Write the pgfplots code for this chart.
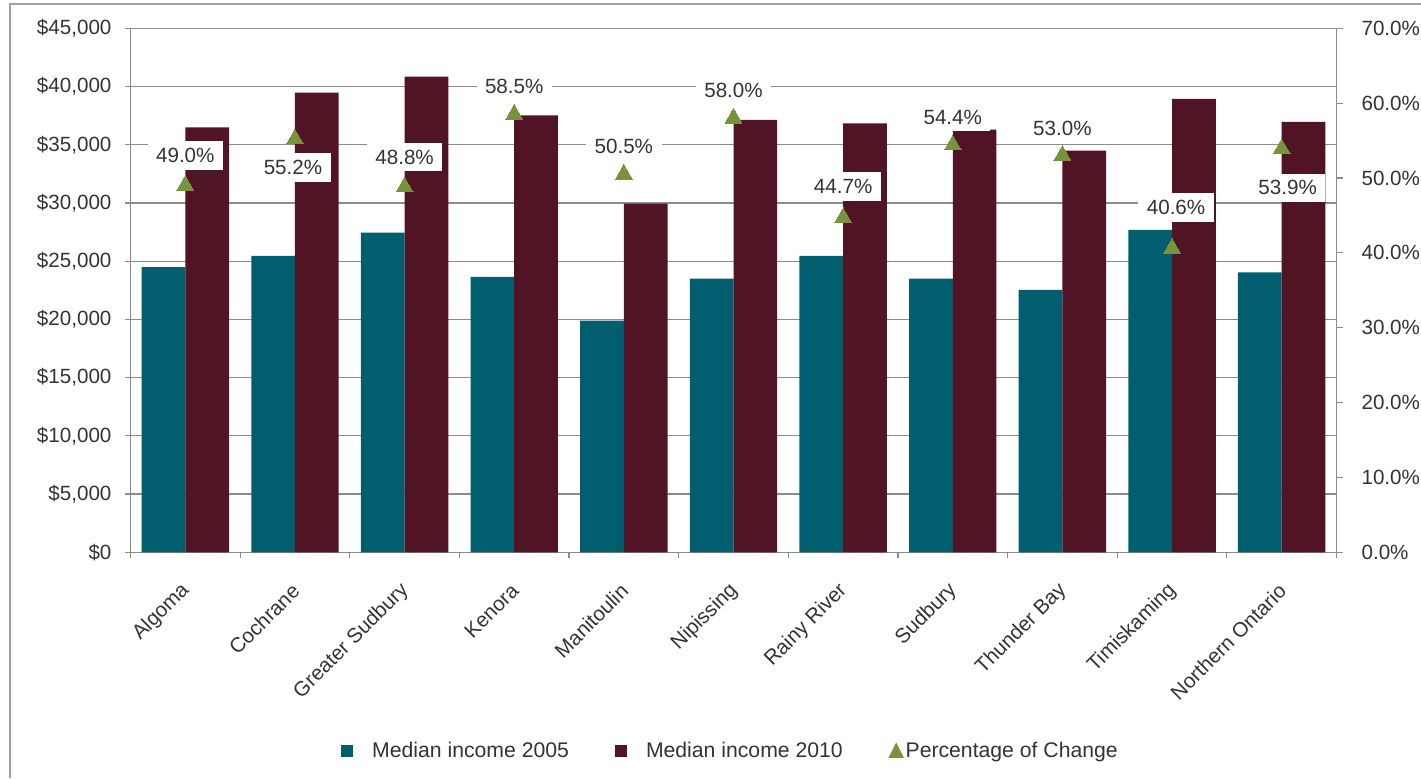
\documentclass[border=0pt]{standalone}
\usepackage{pgfplots}
\pgfplotsset{compat=1.18}
\usepackage{pgfplotstable}
\usepackage{fontspec}
\setmainfont{Liberation Sans}
\definecolor{teal05}{RGB}{0,94,110}
\definecolor{maroon10}{RGB}{80,20,36}
\definecolor{trigreen}{RGB}{119,147,60}
\definecolor{gridc}{RGB}{140,140,140}
\definecolor{textc}{RGB}{51,51,51}
\definecolor{borderc}{RGB}{160,160,160}

\pgfplotstableread{
x inc05 inc10
0 24500 36500
1 25450 39480
2 27450 40850
3 23650 37530
4 19900 29950
5 23500 37130
6 25450 36840
7 23500 36300
8 22530 34500
9 27680 38930
10 24050 36960
}\inctable

\pgfplotstableread{
x pct yoff xoff
0 49.0 15 0
1 55.2 -14.25 -1
2 48.8 15 0
3 58.5 14 0
4 50.5 14 0
5 58.0 14 0
6 44.7 15.5 0
7 54.4 14 0
8 53.0 13.5 0
9 40.6 20.5 2
10 53.9 -19.5 3
}\pcttable

\newcommand{\cf}{\fontsize{10.3}{12.4}\selectfont}
\newcommand{\lf}{\fontsize{10.6}{12.7}\selectfont}

\begin{document}
\begin{tikzpicture}[font=\cf]
\path[use as bounding box] (0,0) rectangle (710.5pt,389pt);
\draw[borderc, line width=1.2pt] (5pt,0) -- (5pt,387pt) -- (710.5pt,387pt);

\begin{axis}[
  scale only axis, width=603pt, height=262pt,
  at={(65.25pt,112.85pt)}, anchor=south west,
  xmin=-0.5, xmax=10.5, ymin=0, ymax=45000,
  enlargelimits=false,
  ybar=0pt, bar width=21.85pt,
  axis x line*=bottom, axis y line*=left,
  axis line style={gridc, line width=0.6pt},
  tick align=outside,
  tick style={gridc, line width=0.6pt},
  major tick length=3pt,
  ytick={0,5000,...,45000},
  scaled y ticks=false,
  /pgf/number format/assume math mode=true,
  yticklabel={\$\pgfmathprintnumber[fixed,1000 sep={,}]{\tick}},
  yticklabel style={xshift=-3pt},
  ymajorgrids, grid style={gridc, line width=0.6pt},
  tick label style={font=\cf, text=textc},
  xtick={-0.5,0.5,...,10.5}, xticklabels={},
  extra x ticks={0,1,...,10},
  extra x tick labels={Algoma,Cochrane,Greater Sudbury,Kenora,Manitoulin,Nipissing,Rainy River,Sudbury,Thunder Bay,Timiskaming,Northern Ontario},
  extra x tick style={major tick length=0pt, xticklabel style={xshift=0.5pt, yshift=-17.5pt, rotate=45, anchor=east, inner sep=0pt}},
  legend style={at={(0.4975,-0.38)}, anchor=center, draw=none, fill=none,
    legend columns=3, font=\lf, text=textc,
    /tikz/every even column/.append style={column sep=22pt},
    nodes={inner xsep=1pt}},
]
\addplot[fill=teal05, draw=none,
  legend image code/.code={\fill[teal05] (0pt,-3pt) rectangle (6pt,3pt); \path[draw=none,fill=none] (0pt,0pt) -- (14.5pt,0pt);}]
  table[x=x,y=inc05]{\inctable};
\addlegendentry{Median income 2005}
\addplot[fill=maroon10, draw=none,
  legend image code/.code={\fill[maroon10] (0pt,-3pt) rectangle (6pt,3pt); \path[draw=none,fill=none] (0pt,0pt) -- (14.5pt,0pt);}]
  table[x=x,y=inc10]{\inctable};
\addlegendentry{Median income 2010}
\addlegendimage{legend image code/.code={\fill[trigreen] (0pt,-3pt) -- (7pt,-3pt) -- (3.5pt,4pt) -- cycle;}}
\addlegendentry{Percentage of Change}
\end{axis}

\begin{axis}[
  scale only axis, width=603pt, height=262pt,
  at={(65.25pt,112.85pt)}, anchor=south west,
  xmin=-0.5, xmax=10.5, ymin=0, ymax=70,
  enlargelimits=false, clip=false,
  axis x line=none, axis y line*=right,
  axis line style={gridc, line width=0.6pt},
  tick align=outside,
  tick style={gridc, line width=0.6pt},
  major tick length=3pt,
  ytick={0,10,...,70},
  /pgf/number format/assume math mode=true,
  yticklabel={\pgfmathprintnumber[fixed,fixed zerofill,precision=1]{\tick}\%},
  yticklabel style={xshift=6pt},
  tick label style={font=\cf, text=textc},
]
\addplot[only marks, color=trigreen, mark=triangle*, mark size=4.9pt,
  mark options={fill=trigreen, draw=trigreen, line width=0pt},
  point meta=y,
  visualization depends on={\thisrow{yoff}\as\yoff},
  visualization depends on={\thisrow{xoff}\as\xoff},
  nodes near coords={\pgfmathprintnumber[fixed,fixed zerofill,precision=1]{\pgfplotspointmeta}\%},
  nodes near coords style={anchor=center, yshift=\yoff pt, xshift=\xoff pt,
    fill=white, draw=none, inner xsep=4.25pt, inner ysep=3.5pt, text=textc, font=\cf},
] table[x=x,y=pct]{\pcttable};
\end{axis}
\end{tikzpicture}
\end{document}
